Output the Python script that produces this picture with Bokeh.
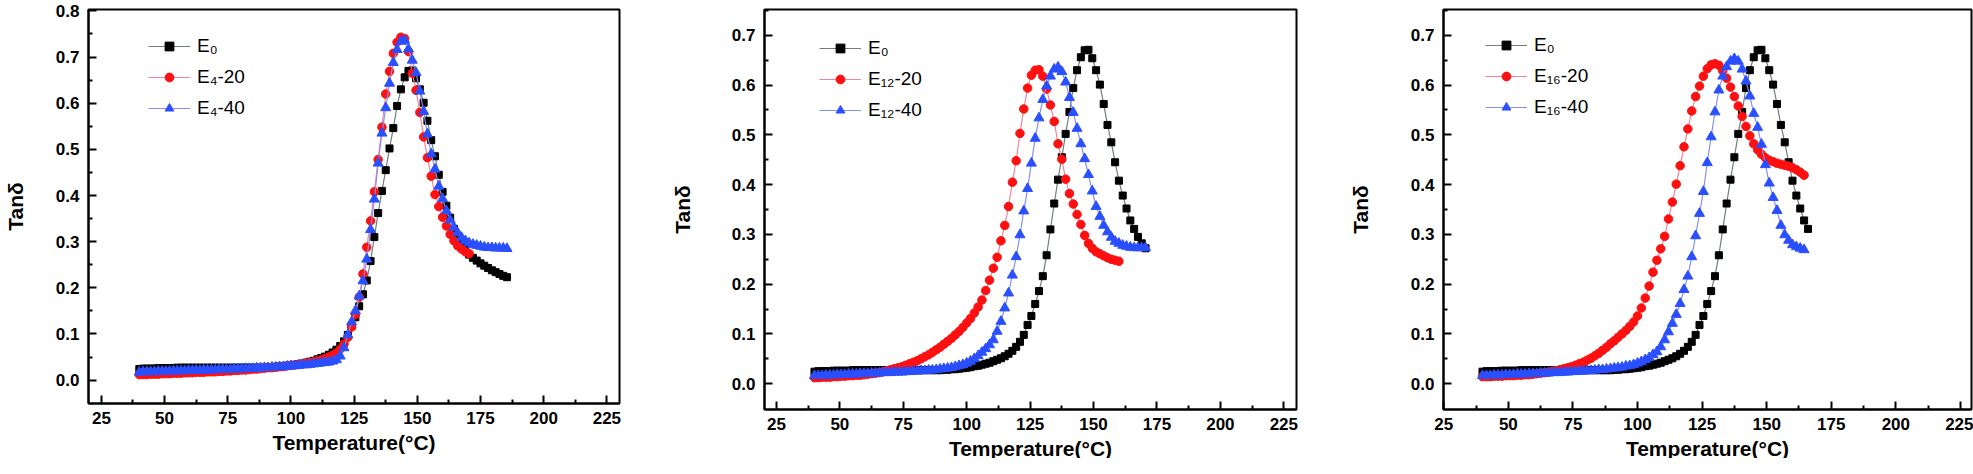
from bokeh.plotting import figure
from bokeh.layouts import row
from bokeh.models import FixedTicker, NumeralTickFormatter, Range1d, Legend, LegendItem
from bokeh.embed import file_html
from bokeh.resources import INLINE

# ---------------- data ----------------
TEMP = [40.0, 41.5, 43.0, 44.5, 46.0, 47.5, 49.0, 50.5, 52.0, 53.5,
        55.0, 56.5, 58.0, 59.5, 61.0, 62.5, 64.0, 65.5, 67.0, 68.5,
        70.0, 71.5, 73.0, 74.5, 76.0, 77.5, 79.0, 80.5, 82.0, 83.5,
        85.0, 86.5, 88.0, 89.5, 91.0, 92.5, 94.0, 95.5, 97.0, 98.5,
        100.0, 101.5, 103.0, 104.5, 106.0, 107.5, 109.0, 110.5, 112.0, 113.5,
        115.0, 116.5, 118.0, 119.5, 121.0, 122.5, 124.0, 125.5, 127.0, 128.5,
        130.0, 131.5, 133.0, 134.5, 136.0, 137.5, 139.0, 140.5, 142.0, 143.5,
        145.0, 146.5, 148.0, 149.5, 151.0, 152.5, 154.0, 155.5, 157.0, 158.5,
        160.0, 161.5, 163.0, 164.5, 166.0, 167.5, 169.0, 170.5, 172.0, 173.5,
        175.0, 176.5, 178.0, 179.5, 181.0, 182.5, 184.0, 185.5]

E0 = [0.024, 0.025, 0.025, 0.025, 0.025, 0.026, 0.026, 0.026, 0.026, 0.026,
      0.027, 0.027, 0.027, 0.027, 0.027, 0.027, 0.027, 0.027, 0.027, 0.027,
      0.027, 0.027, 0.027, 0.027, 0.027, 0.027, 0.027, 0.027, 0.027, 0.027,
      0.027, 0.027, 0.027, 0.027, 0.028, 0.028, 0.029, 0.029, 0.030, 0.031,
      0.032, 0.033, 0.035, 0.036, 0.038, 0.040, 0.042, 0.045, 0.048, 0.051,
      0.055, 0.060, 0.066, 0.074, 0.084, 0.098, 0.118, 0.136, 0.160, 0.186,
      0.216, 0.258, 0.310, 0.362, 0.410, 0.455, 0.502, 0.546, 0.594, 0.630,
      0.656, 0.670, 0.671, 0.654, 0.630, 0.601, 0.562, 0.520, 0.485, 0.445,
      0.408, 0.378, 0.352, 0.328, 0.311, 0.295, 0.282, 0.272, 0.265, 0.259,
      0.253, 0.248, 0.243, 0.238, 0.234, 0.230, 0.226, 0.223]

E4_20 = [0.012, 0.012, 0.012, 0.013, 0.013, 0.013, 0.014, 0.014, 0.014, 0.015,
         0.015, 0.015, 0.016, 0.016, 0.016, 0.017, 0.017, 0.017, 0.018, 0.018,
         0.018, 0.019, 0.019, 0.020, 0.020, 0.021, 0.021, 0.022, 0.022, 0.023,
         0.024, 0.024, 0.025, 0.026, 0.027, 0.027, 0.028, 0.029, 0.030, 0.031,
         0.032, 0.033, 0.034, 0.035, 0.037, 0.038, 0.040, 0.042, 0.044, 0.047,
         0.050, 0.054, 0.059, 0.067, 0.078, 0.093, 0.115, 0.142, 0.180, 0.230,
         0.288, 0.345, 0.408, 0.478, 0.548, 0.620, 0.669, 0.708, 0.732, 0.743,
         0.740, 0.712, 0.665, 0.628, 0.580, 0.527, 0.482, 0.442, 0.402, 0.376,
         0.353, 0.334, 0.316, 0.302, 0.291, 0.284, 0.278, 0.274]

E4_40 = [0.017, 0.018, 0.018, 0.018, 0.018, 0.019, 0.019, 0.019, 0.019, 0.020,
         0.020, 0.020, 0.020, 0.021, 0.021, 0.021, 0.021, 0.022, 0.022, 0.022,
         0.022, 0.023, 0.023, 0.023, 0.023, 0.024, 0.024, 0.024, 0.025, 0.025,
         0.025, 0.026, 0.026, 0.027, 0.027, 0.028, 0.028, 0.029, 0.029, 0.030,
         0.031, 0.031, 0.032, 0.033, 0.033, 0.034, 0.035, 0.036, 0.037, 0.038,
         0.039, 0.041, 0.044, 0.052, 0.070, 0.098, 0.126, 0.150, 0.182, 0.215,
         0.262, 0.326, 0.392, 0.470, 0.535, 0.590, 0.643, 0.688, 0.716, 0.734,
         0.736, 0.717, 0.693, 0.666, 0.626, 0.582, 0.533, 0.490, 0.457, 0.420,
         0.393, 0.367, 0.347, 0.331, 0.319, 0.309, 0.302, 0.297, 0.294, 0.292,
         0.290, 0.288, 0.287, 0.287, 0.286, 0.286, 0.286, 0.285]

E12_20 = [0.012, 0.012, 0.013, 0.013, 0.013, 0.014, 0.014, 0.015, 0.015, 0.016,
          0.016, 0.017, 0.017, 0.018, 0.019, 0.020, 0.021, 0.022, 0.024, 0.026,
          0.028, 0.030, 0.032, 0.034, 0.037, 0.040, 0.043, 0.046, 0.050, 0.054,
          0.058, 0.063, 0.068, 0.073, 0.079, 0.085, 0.091, 0.098, 0.105, 0.113,
          0.122, 0.131, 0.142, 0.154, 0.168, 0.187, 0.208, 0.232, 0.254, 0.287,
          0.318, 0.356, 0.405, 0.448, 0.503, 0.552, 0.594, 0.620, 0.630, 0.631,
          0.618, 0.592, 0.560, 0.527, 0.482, 0.451, 0.411, 0.382, 0.361, 0.340,
          0.320, 0.298, 0.282, 0.272, 0.265, 0.261, 0.257, 0.253, 0.250, 0.248,
          0.246]

E12_40 = [0.016, 0.016, 0.016, 0.017, 0.017, 0.017, 0.018, 0.018, 0.018, 0.019,
          0.019, 0.019, 0.020, 0.020, 0.020, 0.021, 0.021, 0.021, 0.022, 0.022,
          0.022, 0.023, 0.023, 0.023, 0.024, 0.024, 0.025, 0.025, 0.026, 0.026,
          0.027, 0.027, 0.028, 0.029, 0.030, 0.031, 0.032, 0.034, 0.036, 0.038,
          0.041, 0.045, 0.050, 0.056, 0.063, 0.070, 0.078, 0.088, 0.105, 0.125,
          0.152, 0.182, 0.218, 0.255, 0.299, 0.347, 0.392, 0.443, 0.493, 0.534,
          0.571, 0.598, 0.618, 0.632, 0.636, 0.627, 0.606, 0.575, 0.545, 0.513,
          0.482, 0.452, 0.420, 0.387, 0.356, 0.336, 0.318, 0.305, 0.294, 0.286,
          0.282, 0.278, 0.276, 0.274, 0.273, 0.273, 0.273, 0.273]

E16_20 = [0.014, 0.014, 0.014, 0.015, 0.015, 0.015, 0.016, 0.016, 0.016, 0.017,
          0.017, 0.018, 0.018, 0.019, 0.020, 0.021, 0.022, 0.023, 0.025, 0.026,
          0.028, 0.030, 0.032, 0.034, 0.037, 0.040, 0.043, 0.047, 0.051, 0.056,
          0.061, 0.067, 0.073, 0.080, 0.086, 0.093, 0.100, 0.107, 0.115, 0.124,
          0.136, 0.152, 0.172, 0.196, 0.224, 0.248, 0.271, 0.296, 0.331, 0.365,
          0.401, 0.438, 0.476, 0.512, 0.548, 0.577, 0.598, 0.618, 0.633, 0.641,
          0.643, 0.640, 0.629, 0.614, 0.596, 0.577, 0.558, 0.537, 0.517, 0.498,
          0.482, 0.470, 0.461, 0.454, 0.449, 0.446, 0.443, 0.441, 0.439, 0.437,
          0.434, 0.430, 0.425, 0.419]

E16_40 = [0.016, 0.016, 0.016, 0.017, 0.017, 0.017, 0.018, 0.018, 0.018, 0.019,
          0.019, 0.019, 0.020, 0.020, 0.020, 0.021, 0.021, 0.021, 0.022, 0.022,
          0.022, 0.023, 0.023, 0.024, 0.024, 0.025, 0.025, 0.026, 0.026, 0.027,
          0.028, 0.028, 0.029, 0.030, 0.031, 0.032, 0.033, 0.035, 0.036, 0.038,
          0.041, 0.044, 0.048, 0.052, 0.058, 0.064, 0.074, 0.088, 0.104, 0.121,
          0.139, 0.161, 0.189, 0.216, 0.255, 0.297, 0.342, 0.386, 0.444, 0.496,
          0.546, 0.590, 0.618, 0.637, 0.648, 0.653, 0.648, 0.632, 0.608, 0.578,
          0.543, 0.515, 0.481, 0.440, 0.403, 0.374, 0.348, 0.318, 0.299, 0.288,
          0.279, 0.275, 0.272, 0.269]

# number of E0 points shown in each panel
E0_POINTS = [98, 88, 85]

X_TICKS = [25, 50, 75, 100, 125, 150, 175, 200, 225]
X_MINOR = [37.5, 62.5, 87.5, 112.5, 137.5, 162.5, 187.5, 212.5]
Y_TICKS_A = [0.0, 0.1, 0.2, 0.3, 0.4, 0.5, 0.6, 0.7, 0.8]
Y_TICKS_B = [0.0, 0.1, 0.2, 0.3, 0.4, 0.5, 0.6, 0.7]
Y_MINOR = [0.05, 0.15, 0.25, 0.35, 0.45, 0.55, 0.65, 0.75]

LABELS = [["E\u2080", "E\u2084-20", "E\u2084-40"],
          ["E\u2080", "E\u2081\u2082-20", "E\u2081\u2082-40"],
          ["E\u2080", "E\u2081\u2086-20", "E\u2081\u2086-40"]]

# ---------------- style ----------------
FONT = "Liberation Sans"
MARK = [("square", 7, "#000000", "#6f7f7f"),
        ("circle", 8.5, "#ff1010", "#f4849a"),
        ("triangle", 10, "#2a4fff", "#8890ee")]


def panel(series, xr, yr, yticks, labels, bl, br, fw, top, fh, ylab_standoff, leg_loc):
    p = figure(frame_width=fw, frame_height=fh,
               x_range=Range1d(*xr), y_range=Range1d(*yr),
               output_backend="svg", toolbar_location=None,
               min_border_left=bl, min_border_right=br,
               min_border_top=top, min_border_bottom=55,
               background_fill_color="white", border_fill_color="white")
    p.xgrid.visible = False
    p.ygrid.visible = False
    p.outline_line_color = "black"
    p.outline_line_width = 2
    p.outline_line_alpha = 1.0

    p.xaxis.ticker = FixedTicker(ticks=X_TICKS, minor_ticks=X_MINOR)
    p.yaxis.ticker = FixedTicker(ticks=yticks, minor_ticks=Y_MINOR)
    p.yaxis.formatter = NumeralTickFormatter(format="0.0")
    p.xaxis.axis_label = "Temperature(\u00b0C)"
    p.yaxis.axis_label = "Tan\u03b4"
    for ax in (p.xaxis, p.yaxis):
        ax.axis_line_width = 2
        ax.axis_line_color = "black"
        ax.major_tick_in = 8
        ax.major_tick_out = 0
        ax.minor_tick_in = 4
        ax.minor_tick_out = 0
        ax.major_tick_line_width = 2
        ax.minor_tick_line_width = 2
        ax.major_tick_line_color = "black"
        ax.minor_tick_line_color = "black"
        ax.major_label_text_font = FONT
        ax.major_label_text_font_style = "bold"
        ax.major_label_text_font_size = "17px"
        ax.major_label_text_color = "black"
        ax.axis_label_text_font = FONT
        ax.axis_label_text_font_style = "bold"
        ax.axis_label_text_font_size = "21px"
        ax.axis_label_text_color = "black"
    p.xaxis.major_label_standoff = 8
    p.xaxis.axis_label_standoff = 4
    p.yaxis.major_label_standoff = 9
    p.yaxis.axis_label_standoff = ylab_standoff

    items = []
    for (xs, ys), (mk, sz, fc, lc), lab in zip(series, MARK, labels):
        ln = p.line(xs, ys, line_color=lc, line_width=1.2)
        sc = p.scatter(xs, ys, marker=mk, size=sz, fill_color=fc, line_color=fc)
        items.append(LegendItem(label=lab, renderers=[ln, sc]))
    leg = Legend(items=items, location=leg_loc, padding=0, margin=0, spacing=9,
                 glyph_width=42, glyph_height=22, label_height=22, label_standoff=7,
                 label_text_font=FONT, label_text_font_size="19px",
                 label_text_color="black",
                 border_line_color=None, background_fill_alpha=0)
    p.add_layout(leg)
    return p


p1 = panel([(TEMP[:E0_POINTS[0]], E0[:E0_POINTS[0]]),
            (TEMP[:len(E4_20)], E4_20),
            (TEMP[:len(E4_40)], E4_40)],
           (19.9, 230.0), (-0.0506, 0.803), Y_TICKS_A, LABELS[0],
           82, 48, 531, 9, 394, 26, (60, 284))
p2 = panel([(TEMP[:E0_POINTS[1]], E0[:E0_POINTS[1]]),
            (TEMP[:len(E12_20)], E12_20),
            (TEMP[:len(E12_40)], E12_40)],
           (20.3, 230.0), (-0.052, 0.752), Y_TICKS_B, LABELS[1],
           92, 49, 532, 3, 400, 35, (55, 288))
p3 = panel([(TEMP[:E0_POINTS[2]], E0[:E0_POINTS[2]]),
            (TEMP[:len(E16_20)], E16_20),
            (TEMP[:len(E16_40)], E16_40)],
           (24.9, 229.3), (-0.052, 0.752), Y_TICKS_B, LABELS[2],
           93, 2, 528, 3, 400, 36, (42, 291))

layout = row(p1, p2, p3, spacing=0)
open("out.html", "w").write(file_html(layout, INLINE))
